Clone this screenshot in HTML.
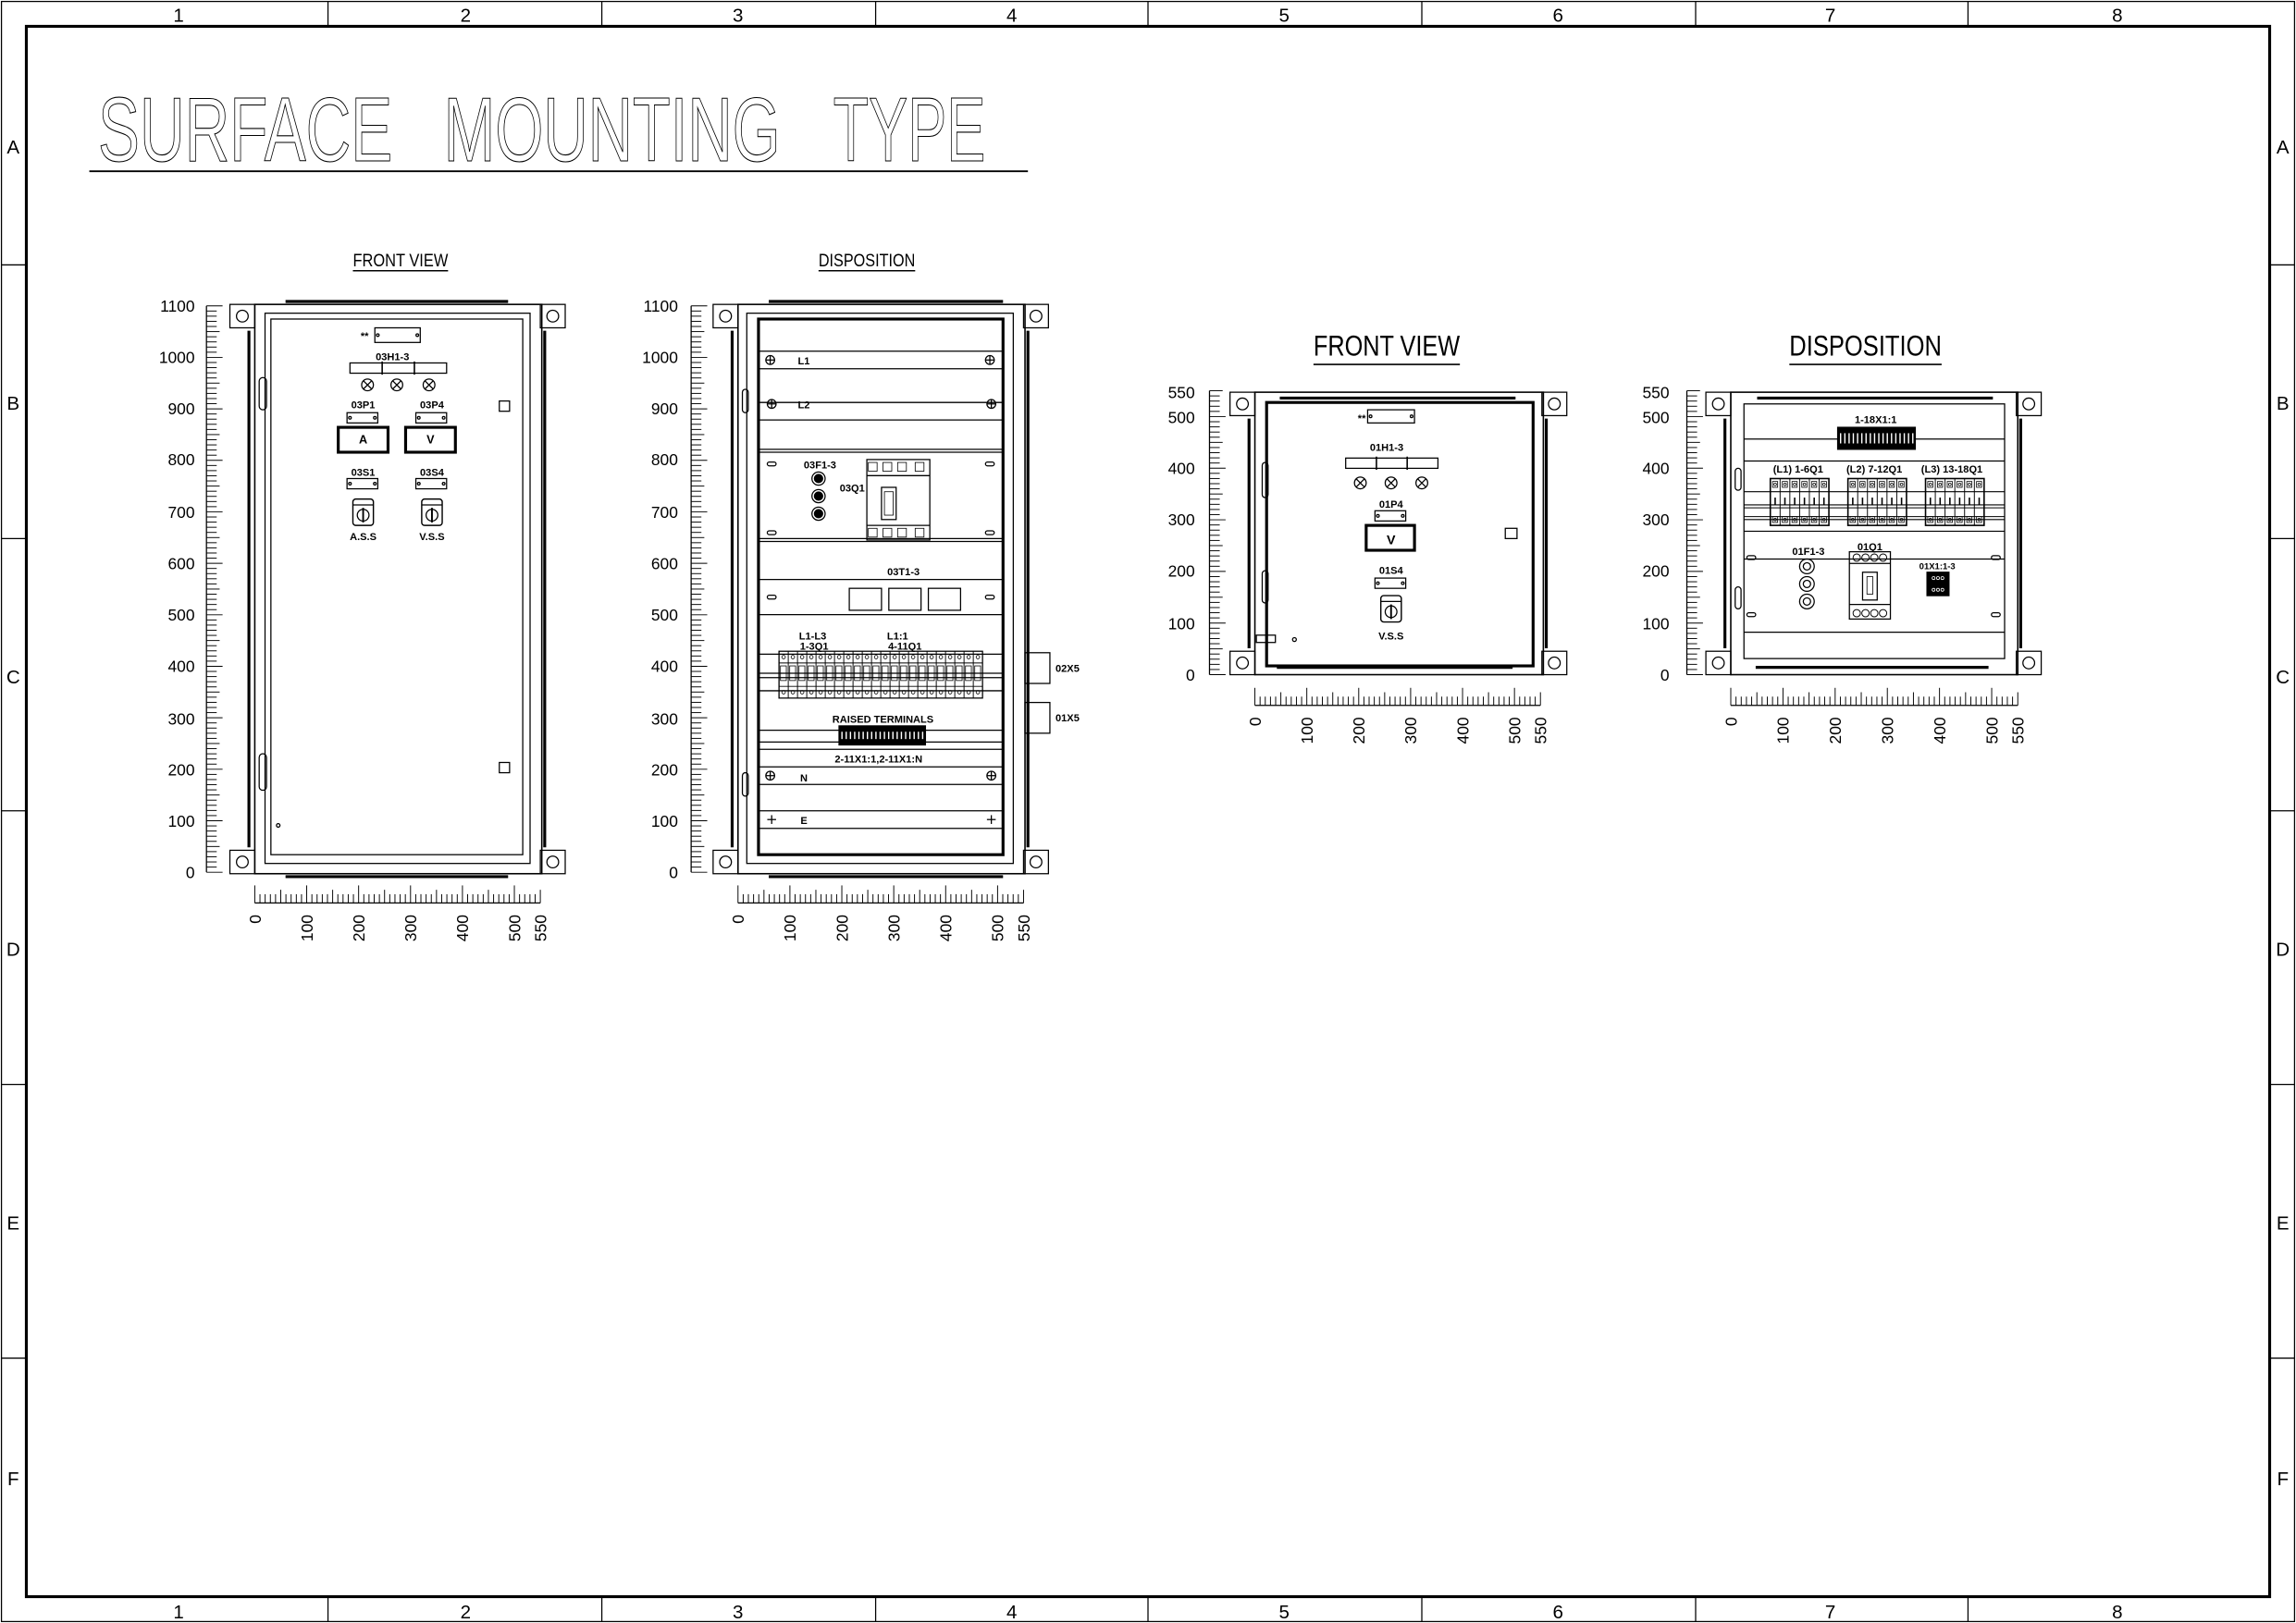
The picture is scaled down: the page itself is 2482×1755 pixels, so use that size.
<!DOCTYPE html>
<html><head><meta charset="utf-8"><style>
html,body{margin:0;padding:0;background:#fff;}
svg{display:block;}
text{font-family:"Liberation Sans",sans-serif;fill:#000;}
.b{font-weight:bold;font-size:7px;}
.n{font-size:11px;}
.t{font-size:62px;fill:none;stroke:#000;stroke-width:0.7;}
</style></head><body>
<svg id="s" xmlns="http://www.w3.org/2000/svg" width="2482" height="1755" viewBox="0 0 1568 1109" preserveAspectRatio="none">
<rect x="0" y="0" width="1568" height="1109" fill="#fff"/>
<g id="g" fill="none" stroke="#000" stroke-width="0.8"></g>
<g font-size="13" text-anchor="middle">
<text x="122" y="15">1</text><text x="318" y="15">2</text><text x="504" y="15">3</text><text x="691" y="15">4</text><text x="877" y="15">5</text><text x="1064" y="15">6</text><text x="1250" y="15">7</text><text x="1446" y="15">8</text>
<text x="122" y="1106">1</text><text x="318" y="1106">2</text><text x="504" y="1106">3</text><text x="691" y="1106">4</text><text x="877" y="1106">5</text><text x="1064" y="1106">6</text><text x="1250" y="1106">7</text><text x="1446" y="1106">8</text>
<text x="9" y="105">A</text><text x="9" y="280">B</text><text x="9" y="467">C</text><text x="9" y="653">D</text><text x="9" y="840">E</text><text x="9" y="1015">F</text>
<text x="1559" y="105">A</text><text x="1559" y="280">B</text><text x="1559" y="467">C</text><text x="1559" y="653">D</text><text x="1559" y="840">E</text><text x="1559" y="1015">F</text>
</g>
<text class="t" x="67" y="110" textLength="201" lengthAdjust="spacingAndGlyphs">SURFACE</text>
<text class="t" x="303" y="110" textLength="230" lengthAdjust="spacingAndGlyphs">MOUNTING</text>
<text class="t" x="569" y="110" textLength="104" lengthAdjust="spacingAndGlyphs">TYPE</text>
<text x="241" y="182" font-size="12" textLength="65" lengthAdjust="spacingAndGlyphs">FRONT VIEW</text>
<text x="559" y="182" font-size="12" textLength="66" lengthAdjust="spacingAndGlyphs">DISPOSITION</text>
<text x="897" y="243" font-size="20" textLength="100" lengthAdjust="spacingAndGlyphs">FRONT VIEW</text>
<text x="1222" y="243" font-size="20" textLength="104" lengthAdjust="spacingAndGlyphs">DISPOSITION</text>
<g class="n" text-anchor="end">
<text x="133" y="213">1100</text><text x="133" y="248">1000</text><text x="133" y="283">900</text><text x="133" y="318">800</text><text x="133" y="354">700</text><text x="133" y="389">600</text><text x="133" y="424">500</text><text x="133" y="459">400</text><text x="133" y="495">300</text><text x="133" y="530">200</text><text x="133" y="565">100</text><text x="133" y="600">0</text>
<text x="463" y="213">1100</text><text x="463" y="248">1000</text><text x="463" y="283">900</text><text x="463" y="318">800</text><text x="463" y="354">700</text><text x="463" y="389">600</text><text x="463" y="424">500</text><text x="463" y="459">400</text><text x="463" y="495">300</text><text x="463" y="530">200</text><text x="463" y="565">100</text><text x="463" y="600">0</text>
<text x="816" y="272">550</text><text x="816" y="289">500</text><text x="816" y="324">400</text><text x="816" y="359">300</text><text x="816" y="394">200</text><text x="816" y="430">100</text><text x="816" y="465">0</text>
<text x="1140" y="272">550</text><text x="1140" y="289">500</text><text x="1140" y="324">400</text><text x="1140" y="359">300</text><text x="1140" y="394">200</text><text x="1140" y="430">100</text><text x="1140" y="465">0</text>
</g>
<g id="hl" class="n"></g>
<g class="b" text-anchor="middle">
<text x="249" y="232">**</text>
<text x="268" y="246">03H1-3</text>
<text x="248" y="279">03P1</text><text x="295" y="279">03P4</text>
<text x="248" y="303" font-size="8">A</text><text x="294" y="303" font-size="8">V</text>
<text x="248" y="325">03S1</text><text x="295" y="325">03S4</text>
<text x="248" y="369">A.S.S</text><text x="295" y="369">V.S.S</text>
<text x="549" y="249">L1</text><text x="549" y="279">L2</text>
<text x="560" y="320">03F1-3</text><text x="582" y="336">03Q1</text>
<text x="617" y="393">03T1-3</text>
<text x="555" y="437">L1-L3</text><text x="556" y="444">1-3Q1</text>
<text x="613" y="437">L1:1</text><text x="618" y="444">4-11Q1</text>
<text x="603" y="494">RAISED  TERMINALS</text>
<text x="600" y="521">2-11X1:1,2-11X1:N</text>
<text x="549" y="534">N</text><text x="549" y="563">E</text>
<text x="729" y="459">02X5</text><text x="729" y="493">01X5</text>
<text x="930" y="288">**</text>
<text x="947" y="308">01H1-3</text>
<text x="950" y="347">01P4</text>
<text x="950" y="372" font-size="9">V</text>
<text x="950" y="392">01S4</text>
<text x="950" y="437">V.S.S</text>
<text x="1281" y="289">1-18X1:1</text>
<text x="1228" y="323">(L1) 1-6Q1</text><text x="1280" y="323">(L2) 7-12Q1</text><text x="1333" y="323">(L3) 13-18Q1</text>
<text x="1235" y="379">01F1-3</text><text x="1277" y="376">01Q1</text>
<text x="1323" y="389" font-size="6">01X1:1-3</text>
</g>
</svg>
<script>
var g=document.getElementById('g'),NS='http://www.w3.org/2000/svg';
function el(t,a){var e=document.createElementNS(NS,t);for(var k in a)e.setAttribute(k,a[k]);g.appendChild(e);return e;}
function L(a,b,c,d,w){el('line',{x1:a,y1:b,x2:c,y2:d,'stroke-width':w||0.8});}
function R(x1,y1,x2,y2,w,f){el('rect',{x:x1,y:y1,width:x2-x1,height:y2-y1,'stroke-width':w||0.8,fill:f||'none'});}
function C(x,y,r,w,f){el('circle',{cx:x,cy:y,r:r,'stroke-width':w||0.8,fill:f||'none'});}
function WL(x1,y1,x2,y2,w){var e=el('line',{x1:x1,y1:y1,x2:x2,y2:y2,'stroke-width':w||0.9});e.setAttribute('stroke','#fff');}
R(1,1,1567,1108,0.8);R(18,18,1550,1091,2);
[224,411,598,784,971,1158,1344].forEach(function(x){L(x,1,x,18);L(x,1091,x,1108);});
[181,368,554,741,928].forEach(function(y){L(1,y,18,y);L(1550,y,1567,y);});
L(61,117,702,117,1.2);L(241,185,306,185,1);L(559,185,625,185,1);L(897,249,997,249,1);L(1222,249,1326,249,1);
function VR(x,yt,yb,u){L(x,yt,x,yb);var n=u/10;for(var i=0;i<=n;i++){var y=yb-i*(yb-yt)/n,l=i%10==0?11:(i%5==0?9:7);L(x,y,x+l,y,0.6);}}
function HR(y,xl,xr,u){var yb=y+12;L(xl,yb,xr,yb);var n=u/10;for(var i=0;i<=n;i++){var x=xl+i*(xr-xl)/n,l=i%10==0?12:(i%5==0?9:6);L(x,yb,x,yb-l,0.6);}
 var h=document.getElementById('hl');[0,100,200,300,400,500,550].forEach(function(v){var x=xl+v*(xr-xl)/u;var t=document.createElementNS(NS,'text');t.setAttribute('transform','translate('+(x+4)+','+(y+20)+') rotate(-90)');t.setAttribute('text-anchor','end');t.textContent=v;h.appendChild(t);});}
function BR(x,y){R(x,y,x+17,y+16);C(x+8.5,y+8,4);}
function LAMP(x,y){C(x,y,4);L(x-2.8,y-2.8,x+2.8,y+2.8);L(x-2.8,y+2.8,x+2.8,y-2.8);}
function NP(x,y,w){w=w||21;R(x,y,x+w,y+7);C(x+2,y+3.5,0.9);C(x+w-2,y+3.5,0.9);}
function SW(x,y){el('rect',{x:x,y:y,width:14,height:18,rx:2,'stroke-width':0.9,fill:'none'});L(x,y+4,x+14,y+4);C(x+7,y+11,4);L(x+7,y+6,x+7,y+16,1.2);}
function STRIP(x,y,w){R(x,y,x+w,y+7);for(var i=1;i<3;i++){L(x+i*w/3,y-1,x+i*w/3,y+8,1);}}
function ENC(x1,x2,yt,yb){R(x1,yt,x2,yb,1);BR(x1-17,yt);BR(x2-1,yt);BR(x1-17,yb-16);BR(x2-1,yb-16);
 L(x1-4,yt+18,x1-4,yb-18,2);L(x2+2,yt+18,x2+2,yb-18,2);}
VR(141,209,596,1100);HR(605,174,369,550);
ENC(174,370,208,597);L(195,206,347,206,2);L(195,599,347,599,2);
R(181,214,362,590);R(185,218,357,584);
el('rect',{x:177,y:258,width:5,height:22,rx:2.5,'stroke-width':0.8,fill:'none'});
el('rect',{x:177,y:515,width:5,height:25,rx:2.5,'stroke-width':0.8,fill:'none'});
R(256,224,287,234);C(258,229,0.9);C(285,229,0.9);
STRIP(239,248,66);LAMP(251,263);LAMP(271,263);LAMP(293,263);
NP(237,282);NP(284,282);R(231,292,265,309,2);R(277,292,311,309,2);
NP(237,327);NP(284,327);SW(241,341);SW(288,341);
R(341,274,348,281);R(341,521,348,528);C(190,564,1.2);
VR(472,209,596,1100);HR(605,504,699,550);
ENC(504,700,208,597);L(525,206,685,206,2);L(525,599,685,599,2);
R(510,214,692,590);R(518,218,685,584,2);
el('rect',{x:507,y:266,width:4,height:16,rx:2,'stroke-width':0.8,fill:'none'});
el('rect',{x:507,y:528,width:4,height:16,rx:2,'stroke-width':0.8,fill:'none'});
function PL(x,y){C(x,y,3);L(x-3,y,x+3,y);L(x,y-3,x,y+3);}
[[240,252],[275,287],[524,536],[554,566]].forEach(function(r){L(518,r[0],685,r[0]);L(518,r[1],685,r[1]);});
PL(526,246);PL(676,246);PL(527,276);PL(677,276);PL(526,530);PL(677,530);
L(524,560,530,560);L(527,557,527,563);L(674,560,680,560);L(677,557,677,563);
L(518,307,685,307);L(518,309,685,309);L(518,368,685,368);L(518,370,685,370);L(518,396,685,396);L(518,420,685,420);
function SLOT(x,y){el('rect',{x:x-3,y:y-1.3,width:6,height:2.6,rx:1.3,'stroke-width':0.8,fill:'none'});}
SLOT(527,317);SLOT(676,317);SLOT(527,364);SLOT(676,364);SLOT(527,408);SLOT(676,408);
[327,339,351].forEach(function(y){C(559,y,4.5);C(559,y,2.8,0.8,'#000');});
R(592,314,635,369);L(592,325,635,325);L(592,359,635,359);R(602,333,612,355);R(604,336,610,352,0.5);
[596,606,616,628].forEach(function(x){R(x-3,316,x+3,322,0.5);R(x-3,361,x+3,367,0.5);});
R(580,402,602,417);R(607,402,629,417);R(634,402,656,417);
[447,460,463,472].forEach(function(y){L(518,y,685,y);});
R(532,445,671,477);for(var i=0;i<22;i++){var x=532+i*139/22;L(x,445,x,477,0.6);C(x+3.15,449,1.2,0.5);C(x+3.15,473,1.2,0.5);R(x+1,455,x+5,465,0.5);}
L(532,453,671,453,0.6);L(532,469,671,469,0.6);
L(518,499,685,499);L(518,507,685,507);L(518,512,685,512);
R(573,496,632,509,0.8,'#000');for(var i=0;i<20;i++){WL(575+i*2.9,500,575+i*2.9,505);}
R(700,446,717,467);R(700,480,717,501);
VR(826,267,461,550);HR(470,857,1052,550);
ENC(857,1054,268,461);L(874,272,1035,272,2);L(872,456,1033,456,2);
R(865,275,1047,455,2);
el('rect',{x:862,y:316,width:4,height:24,rx:2,'stroke-width':0.8,fill:'none'});
el('rect',{x:862,y:390,width:4,height:22,rx:2,'stroke-width':0.8,fill:'none'});
R(858,434,871,439);C(884,437,1.3);
R(934,280,966,289);C(936,284.5,0.9);C(964,284.5,0.9);
STRIP(919,313,63);LAMP(929,330);LAMP(950,330);LAMP(971,330);
NP(939,349);R(933,359,966,376,2);NP(939,395);SW(943,407);R(1028,361,1036,368);
VR(1152,267,461,550);HR(470,1182,1378,550);
ENC(1182,1378,268,461);L(1200,272,1361,272,2);L(1199,456,1358,456,2);
R(1191,276,1369,450);
el('rect',{x:1185,y:320,width:4,height:15,rx:2,'stroke-width':0.8,fill:'none'});
el('rect',{x:1185,y:401,width:4,height:15,rx:2,'stroke-width':0.8,fill:'none'});
L(1191,300,1369,300);L(1191,315,1369,315);
[336,345,347,353,355,363].forEach(function(y){L(1191,y,1369,y,0.7);});
L(1191,382,1369,382);L(1191,432,1369,432);
R(1255,292,1308,307,0.8,'#000');
for(var i=0;i<18;i++){WL(1257+i*2.9,296,1257+i*2.9,303);}
[1209,1262,1315].forEach(function(x0){R(x0,327,x0+40,359,1);for(var i=0;i<6;i++){var x=x0+i*40/6;L(x,327,x,359,0.6);R(x+1.5,329,x+5,333,0.5);C(x+3.3,331,0.9,0.5);R(x+1.5,353,x+5,357,0.5);C(x+3.3,355,0.9,0.5);L(x+3.3,340,x+3.3,345,1);}});
SLOT(1196,381);SLOT(1363,381);SLOT(1196,420);SLOT(1363,420);
[387,399,411].forEach(function(y){C(1234,y,5);C(1234,y,2.5);});
R(1263,377,1291,423);L(1263,385,1291,385);L(1263,413,1291,413);R(1272,391,1282,410);R(1275,394,1279,406,0.5);
[1268,1274,1280,1286].forEach(function(x){C(x,381,2.5,0.6);C(x,419,2.5,0.6);});
R(1316,391,1331,407,0.8,'#000');
[1320.5,1323.5,1326.5].forEach(function(x){var e=el('circle',{cx:x,cy:395,r:1,'stroke-width':0.5});e.setAttribute('stroke','#fff');var f=el('circle',{cx:x,cy:403,r:1,'stroke-width':0.5});f.setAttribute('stroke','#fff');});
</script>
</body></html>
